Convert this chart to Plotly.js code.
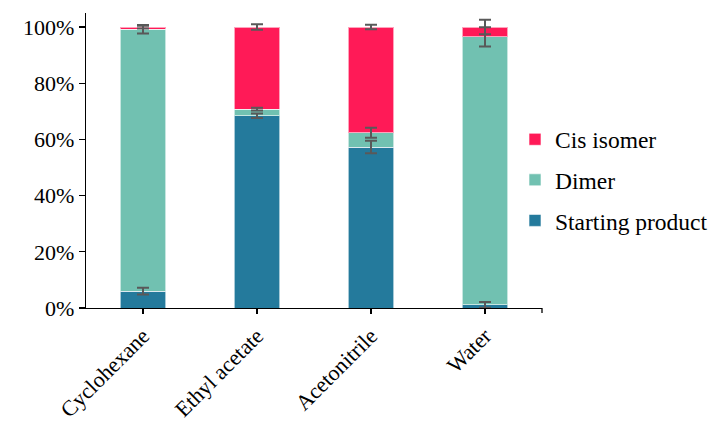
<!DOCTYPE html>
<html><head><meta charset="utf-8">
<script src="https://cdn.plot.ly/plotly-3.0.1.min.js"></script>
<style>html,body{margin:0;padding:0;background:#fff}</style>
</head><body>
<div id="chart" style="width:710px;height:423px"></div>
<script>
const categories = ["Cyclohexane", "Ethyl acetate", "Acetonitrile", "Water"];
const startingProduct = [0.060, 0.684, 0.573, 0.011];
const startingErr = [0.012, 0.008, 0.022, 0.010];
const dimer = [0.932, 0.024, 0.051, 0.954];
const dimerErr = [0.015, 0.005, 0.018, 0.034];
const cisIsomer = [0.008, 0.292, 0.376, 0.035];
const cisErr = [0.005, 0.010, 0.008, 0.026];
const yTickVals = [0, 0.2, 0.4, 0.6, 0.8, 1.0];
const yTickText = ["0%", "20%", "40%", "60%", "80%", "100%"];

const errStyle = (arr) => ({type: 'data', array: arr, visible: true, color: '#595959', thickness: 2, width: 6});
const line = {color: 'rgba(255,255,255,0.6)', width: 1};

// cumulative tops of each stacked segment (error bars sit on them)
const topStart = startingProduct.map(v => v);
const topDimer = startingProduct.map((v, i) => v + dimer[i]);
const topCis = topDimer.map((v, i) => v + cisIsomer[i]);

const traces = [
  {type: 'bar', name: 'Starting product', x: categories, y: startingProduct,
   marker: {color: '#247A9C', line: line}, legendrank: 3, legendgroup: 'c'},
  {type: 'bar', name: 'Dimer', x: categories, y: dimer,
   marker: {color: '#71C1B1', line: line}, legendrank: 2, legendgroup: 'b'},
  {type: 'bar', name: 'Cis isomer', x: categories, y: cisIsomer,
   marker: {color: '#FF1A57', line: line}, legendrank: 1, legendgroup: 'a'},
  {type: 'scatter', mode: 'markers', x: categories, y: topStart, error_y: errStyle(startingErr),
   marker: {opacity: 0}, showlegend: false, hoverinfo: 'skip'},
  {type: 'scatter', mode: 'markers', x: categories, y: topDimer, error_y: errStyle(dimerErr),
   marker: {opacity: 0}, showlegend: false, hoverinfo: 'skip'},
  {type: 'scatter', mode: 'markers', x: categories, y: topCis, error_y: errStyle(cisErr),
   marker: {opacity: 0}, showlegend: false, hoverinfo: 'skip'}
];

const font = {family: 'Liberation Serif', size: 22, color: '#000'};
const legendFont = {family: 'Liberation Serif', size: 23.5, color: '#000'};

const layout = {
  width: 710, height: 423,
  margin: {l: 86, r: 168, t: 13, b: 115, autoexpand: false},
  barmode: 'stack', bargap: 0.6,
  paper_bgcolor: '#fff', plot_bgcolor: '#fff',
  font: font,
  showlegend: true,
  legend: {x: (515 - 86) / 456, xanchor: 'left', y: (308 - 180) / 295, yanchor: 'middle',
           traceorder: 'grouped', tracegroupgap: 7,
           font: legendFont, bgcolor: 'rgba(0,0,0,0)'},
  xaxis: {type: 'category', range: [-0.5, 3.5], showline: true, linecolor: '#000', linewidth: 1.3,
          ticks: 'outside', ticklen: 5, tickcolor: '#000', tickwidth: 1.3, tickangle: -45,
          showgrid: false, zeroline: false, tickfont: font, automargin: false},
  yaxis: {range: [0, 1.05], tickvals: yTickVals, ticktext: yTickText, showline: true, linecolor: '#000',
          linewidth: 1.3, ticks: 'outside', ticklen: 6, tickcolor: '#000', tickwidth: 1.3,
          showgrid: false, zeroline: false, tickfont: font, automargin: false},
  shapes: [{type: 'line', xref: 'paper', yref: 'paper', x0: 1, x1: 1, y0: 0, y1: -0.017,
            line: {color: '#000', width: 1.3}}]
};

Plotly.newPlot('chart', traces, layout, {displayModeBar: false, staticPlot: true});
</script>
</body></html>
